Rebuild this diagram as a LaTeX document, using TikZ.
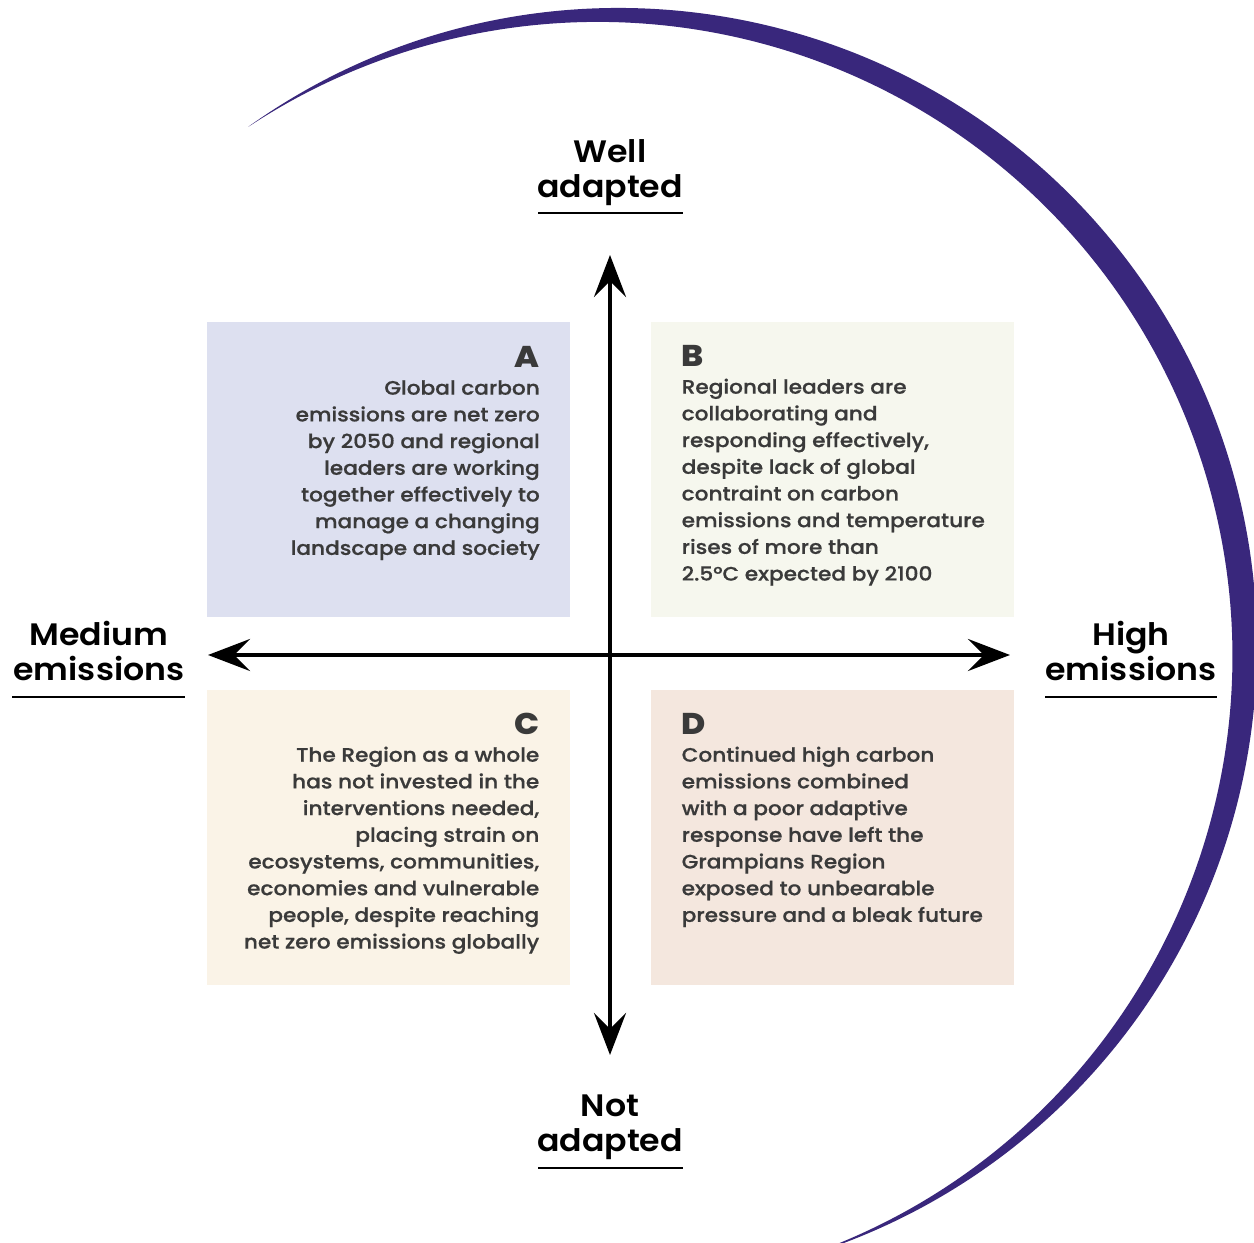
\documentclass[tikz,border=0pt]{standalone}
\usepackage{fontspec}
\usetikzlibrary{arrows.meta}
\IfFontExistsTF{Poppins Medium}{\setmainfont{Poppins Medium}[FakeStretch=1.11,FakeBold=0.6]}{\setmainfont{Poppins}[FakeStretch=1.11,FakeBold=1.2]}
\IfFontExistsTF{Poppins SemiBold}{\newfontfamily\semifont{Poppins SemiBold}[FakeStretch=1.07]}{\newfontfamily\semifont{Poppins}[FakeBold=1.5,FakeStretch=1.07]}
\IfFontExistsTF{Poppins ExtraBold}{\newfontfamily\heavyfont{Poppins ExtraBold}[FakeStretch=1.1]}{\newfontfamily\heavyfont{Poppins}[FakeBold=3,FakeStretch=1.1]}
\definecolor{boxA}{RGB}{221,224,240}
\definecolor{boxB}{RGB}{246,247,238}
\definecolor{boxC}{RGB}{250,243,231}
\definecolor{boxD}{RGB}{244,231,222}
\definecolor{txt}{RGB}{58,58,58}
\definecolor{arcc}{RGB}{57,39,124}
\newcommand\bodyfnt{\fontsize{19.5}{26.7}\selectfont}
\newcommand\letterfnt{\heavyfont\fontsize{30}{26.7}\selectfont}
\newcommand\titlefnt{\semifont\fontsize{31}{35}\selectfont}
\begin{document}
\begin{tikzpicture}[x=1pt,y=1pt,
  body/.style={inner sep=0pt,text=txt,font=\bodyfnt},
  ttl/.style={inner sep=0pt,text=black,font=\titlefnt},
  uline/.style={line width=2.6pt,black},
  axisline/.style={line width=4.5pt,black,
    {Stealth[length=42pt,width=32pt,inset=16pt]}-{Stealth[length=42pt,width=32pt,inset=16pt]}}
]
\useasboundingbox (0,0) rectangle (1254,1243);
\fill[white] (0,0) rectangle (1254,1243);
% crescent
\begin{scope}
\clip (0,0) rectangle (1254,1243);
\fill[arcc] (248.5,1116.4) arc[start angle=125.5,end angle=-73.4,radius=638]
  arc[start angle=-71.3,end angle=123.4,radius=634.5] -- cycle;
\end{scope}
% quadrant boxes
\fill[boxA] (207,626) rectangle (570,921);
\fill[boxB] (651,626) rectangle (1014,921);
\fill[boxC] (207,258) rectangle (570,553);
\fill[boxD] (651,258) rectangle (1014,553);
% axes
\coordinate (top) at (610,988);
\coordinate (bot) at (610,188);
\coordinate (lft) at (208,588);
\coordinate (rgt) at (1010,588);
\draw[axisline] (bot) -- (top);
\draw[axisline] (lft) -- (rgt);
% texts
\node[body,anchor=base east] (tA) at (540,875) {\begin{tabular}[t]{@{}r@{}}{\letterfnt A}\\
Global carbon\\ emissions are net zero\\ by 2050 and regional\\ leaders are working\\ together effectively to\\ manage a changing\\ landscape and society\end{tabular}};
\node[body,anchor=base west] (tB) at (681.5,876) {\begin{tabular}[t]{@{}l@{}}{\letterfnt B}\\
Regional leaders are\\ collaborating and\\ responding effectively,\\ despite lack of global\\ contraint on carbon\\ emissions and temperature\\ rises of more than\\ 2.5°C expected by 2100\end{tabular}};
\node[body,anchor=base east] (tC) at (539.5,508) {\begin{tabular}[t]{@{}r@{}}{\letterfnt C}\\
The Region as a whole\\ has not invested in the\\ interventions needed,\\ placing strain on\\ ecosystems, communities,\\ economies and vulnerable\\ people, despite reaching\\ net zero emissions globally\end{tabular}};
\node[body,anchor=base west] (tD) at (681.5,508) {\begin{tabular}[t]{@{}l@{}}{\letterfnt D}\\
Continued high carbon\\ emissions combined\\ with a poor adaptive\\ response have left the\\ Grampians Region\\ exposed to unbearable\\ pressure and a bleak future\end{tabular}};
% axis labels
\node[ttl,anchor=base] (lWell) at (610,1080) {\begin{tabular}[t]{@{}c@{}}Well\\ adapted\end{tabular}};
\node[ttl,anchor=base] (lNot) at (610,126) {\begin{tabular}[t]{@{}c@{}}Not\\ adapted\end{tabular}};
\node[ttl,anchor=base] (lMed) at (99,597) {\begin{tabular}[t]{@{}c@{}}Medium\\ emissions\end{tabular}};
\node[ttl,anchor=base] (lHigh) at (1131,597) {\begin{tabular}[t]{@{}c@{}}High\\ emissions\end{tabular}};
\draw[uline] (538,1030) -- (683,1030);
\draw[uline] (538,75) -- (683,75);
\draw[uline] (12,546) -- (185,546);
\draw[uline] (1045,546) -- (1217,546);
\end{tikzpicture}
\end{document}
